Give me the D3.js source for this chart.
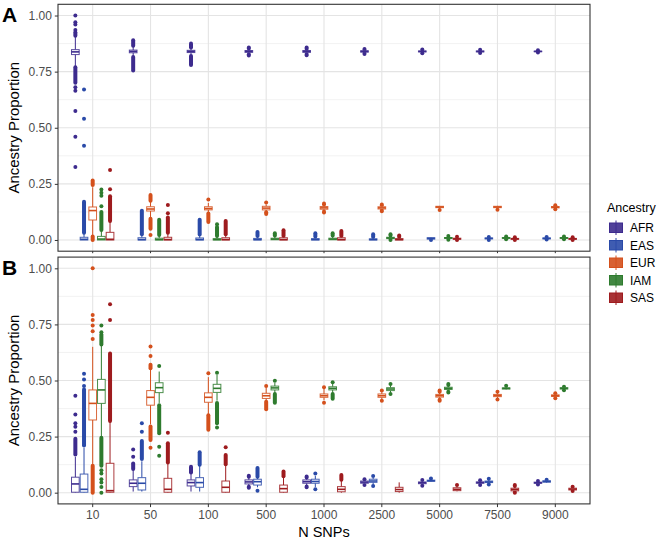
<!DOCTYPE html>
<html><head><meta charset="utf-8">
<script src="https://cdn.jsdelivr.net/npm/d3@7"></script>
<style>body{margin:0;background:#fff} svg{display:block} text{font-family:"Liberation Sans",Arial,Helvetica,sans-serif}</style>
</head><body><svg id="c" width="660" height="540"></svg>
<script>
const categories = ["10","50","100","500","1000","2500","5000","7500","9000"];
const ancestries = ["AFR","EAS","EUR","IAM","SAS"];
const colors = ["#3d2b8e","#2a4aa8","#d4501c","#2e7b2e","#9e1b1e"];
const yTicks = [0, 0.25, 0.5, 0.75, 1];
const yMinor = [0.125, 0.375, 0.625, 0.875];

// b = [lower whisker, q1, median, q3, upper whisker]; r = dense outlier runs [from,to]; p = single outliers
const A_AFR = [
  {b:[0.775,0.826,0.838,0.848,0.905], r:[[0.70,0.77],[0.91,0.925]], p:[0.325,0.46,0.575,0.665,0.68,0.935,0.96,0.97,1.0]},
  {b:[0.82,0.834,0.84,0.846,0.86], r:[[0.755,0.815],[0.865,0.89]], p:[]},
  {b:[0.825,0.835,0.84,0.845,0.852], r:[[0.78,0.82],[0.857,0.875]], p:[]},
  {b:[0.83,0.836,0.84,0.844,0.85], r:[[0.822,0.827],[0.853,0.858]], p:[]},
  {b:[0.832,0.836,0.84,0.844,0.848], r:[[0.823,0.829],[0.851,0.857]], p:[]},
  {b:[0.834,0.837,0.84,0.843,0.846], r:[[0.829,0.831],[0.849,0.851]], p:[]},
  {b:[0.835,0.838,0.84,0.842,0.845], r:[], p:[0.832,0.849]},
  {b:[0.836,0.838,0.84,0.842,0.844], r:[], p:[0.833,0.847]},
  {b:[0.837,0.839,0.84,0.841,0.843], r:[], p:[0.835,0.845]}
];
const A_EAS = [
  {b:[0,0,0.003,0.012,0.028], r:[[0.032,0.17]], p:[0.42,0.54,0.67]},
  {b:[0,0,0.002,0.01,0.022], r:[[0.026,0.13]], p:[]},
  {b:[0,0,0.002,0.009,0.02], r:[[0.024,0.09]], p:[]},
  {b:[0,0,0.002,0.007,0.015], r:[[0.018,0.035]], p:[]},
  {b:[0,0,0.002,0.006,0.013], r:[[0.016,0.03]], p:[]},
  {b:[0,0,0.002,0.005,0.01], r:[[0.013,0.025]], p:[]},
  {b:[0.001,0.004,0.007,0.01,0.012], r:[], p:[0.0]},
  {b:[0.002,0.005,0.007,0.009,0.011], r:[], p:[0.0,0.013]},
  {b:[0.003,0.005,0.007,0.009,0.011], r:[], p:[0.002,0.013]}
];
const A_EUR = [
  {b:[0.02,0.089,0.131,0.147,0.235], r:[[0.0,0.015],[0.245,0.265]], p:[]},
  {b:[0.1,0.129,0.138,0.148,0.17], r:[[0.05,0.095],[0.175,0.2]], p:[0.022]},
  {b:[0.122,0.134,0.14,0.148,0.165], r:[[0.08,0.118]], p:[0.18]},
  {b:[0.128,0.134,0.142,0.15,0.158], r:[[0.116,0.124]], p:[0.167]},
  {b:[0.13,0.137,0.143,0.149,0.155], r:[[0.122,0.127],[0.158,0.163]], p:[]},
  {b:[0.134,0.138,0.143,0.148,0.152], r:[[0.128,0.131],[0.155,0.158]], p:[]},
  {b:[0.138,0.144,0.147,0.15,0.152], r:[], p:[0.134]},
  {b:[0.138,0.144,0.147,0.15,0.152], r:[], p:[0.135]},
  {b:[0.14,0.143,0.146,0.149,0.152], r:[], p:[0.137,0.155]}
];
const A_IAM = [
  {b:[0,0,0.004,0.016,0.04], r:[[0.045,0.125]], p:[0.15,0.197,0.21,0.225]},
  {b:[0,0,0.002,0.008,0.018], r:[[0.022,0.09]], p:[]},
  {b:[0,0,0.002,0.006,0.013], r:[[0.018,0.058]], p:[0.07]},
  {b:[0,0.001,0.004,0.008,0.015], r:[[0.02,0.03]], p:[]},
  {b:[0,0.001,0.004,0.008,0.015], r:[[0.02,0.03]], p:[]},
  {b:[0.003,0.006,0.009,0.012,0.015], r:[[0.0,0.001],[0.02,0.025]], p:[]},
  {b:[0.004,0.007,0.009,0.011,0.014], r:[], p:[0.001,0.018]},
  {b:[0.005,0.007,0.009,0.011,0.013], r:[], p:[0.003,0.016]},
  {b:[0.005,0.007,0.009,0.011,0.013], r:[], p:[0.003,0.016]}
];
const A_SAS = [
  {b:[0,0,0.003,0.034,0.08], r:[[0.085,0.195]], p:[0.226,0.312]},
  {b:[0,0,0.002,0.012,0.028], r:[[0.032,0.1]], p:[0.119,0.156]},
  {b:[0,0,0.002,0.01,0.022], r:[[0.026,0.085]], p:[]},
  {b:[0,0,0.002,0.01,0.015], r:[[0.018,0.043]], p:[]},
  {b:[0,0,0.002,0.01,0.015], r:[[0.018,0.04]], p:[]},
  {b:[0,0,0.002,0.006,0.01], r:[[0.013,0.02]], p:[]},
  {b:[0.001,0.003,0.005,0.008,0.01], r:[], p:[0.0,0.014]},
  {b:[0.001,0.003,0.005,0.007,0.009], r:[], p:[0.0,0.012]},
  {b:[0.001,0.003,0.005,0.007,0.009], r:[], p:[0.0,0.012]}
];

const B_AFR = [
  {b:[0,0.002,0.039,0.069,0.16], r:[[0.17,0.24]], p:[0.272,0.294,0.309,0.348,0.432]},
  {b:[0.005,0.027,0.042,0.057,0.10], r:[[0.105,0.13]], p:[0.16,0.193]},
  {b:[0.005,0.03,0.045,0.057,0.086], r:[[0.09,0.116]], p:[]},
  {b:[0.03,0.039,0.048,0.057,0.068], r:[[0.022,0.026],[0.071,0.076]], p:[]},
  {b:[0.032,0.042,0.049,0.057,0.066], r:[[0.024,0.028],[0.068,0.072]], p:[]},
  {b:[0.038,0.042,0.047,0.052,0.056], r:[], p:[0.034,0.06]},
  {b:[0.036,0.04,0.044,0.048,0.052], r:[], p:[0.031,0.056]},
  {b:[0.038,0.042,0.045,0.048,0.051], r:[], p:[0.034,0.055]},
  {b:[0.039,0.042,0.044,0.047,0.05], r:[], p:[0.036,0.052]}
];
const B_EAS = [
  {b:[0,0.002,0.015,0.083,0.2], r:[[0.21,0.46]], p:[0.475,0.505,0.53]},
  {b:[0.005,0.012,0.042,0.067,0.14], r:[[0.15,0.23]], p:[0.272,0.309]},
  {b:[0.005,0.024,0.045,0.067,0.12], r:[[0.125,0.18]], p:[]},
  {b:[0.024,0.034,0.049,0.06,0.068], r:[[0.071,0.11]], p:[0.009]},
  {b:[0.025,0.042,0.05,0.06,0.075], r:[], p:[0.015,0.086]},
  {b:[0.036,0.046,0.052,0.06,0.066], r:[], p:[0.03,0.074]},
  {b:[0.049,0.051,0.053,0.056,0.058], r:[], p:[0.063]},
  {b:[0.04,0.045,0.048,0.052,0.056], r:[], p:[0.036,0.062]},
  {b:[0.044,0.047,0.05,0.053,0.055], r:[], p:[0.058]}
];
const B_EUR = [
  {b:[0.128,0.324,0.398,0.458,0.65], r:[[0.0,0.12]], p:[0.685,0.72,0.745,0.77,0.792,1.0]},
  {b:[0.305,0.39,0.425,0.455,0.55], r:[[0.235,0.295],[0.555,0.57]], p:[0.2,0.609,0.651]},
  {b:[0.35,0.403,0.425,0.445,0.515], r:[[0.28,0.345]], p:[0.532]},
  {b:[0.41,0.42,0.432,0.443,0.468], r:[[0.372,0.405]], p:[0.475]},
  {b:[0.412,0.425,0.432,0.44,0.462], r:[], p:[0.401,0.47]},
  {b:[0.415,0.425,0.432,0.44,0.448], r:[], p:[0.41,0.455]},
  {b:[0.418,0.426,0.432,0.438,0.446], r:[[0.41,0.414],[0.45,0.455]], p:[]},
  {b:[0.42,0.428,0.433,0.438,0.445], r:[], p:[0.415,0.45]},
  {b:[0.425,0.429,0.432,0.436,0.44], r:[], p:[0.421,0.443]}
];
const B_IAM = [
  {b:[0.25,0.398,0.458,0.505,0.655], r:[[0.12,0.245],[0.66,0.705]], p:[0.0,0.025,0.045,0.06,0.085,0.1,0.715,0.745]},
  {b:[0.40,0.446,0.468,0.49,0.54], r:[[0.265,0.39]], p:[0.165,0.205,0.565]},
  {b:[0.41,0.447,0.465,0.483,0.525], r:[[0.31,0.40]], p:[0.29,0.535]},
  {b:[0.445,0.458,0.467,0.475,0.49], r:[[0.401,0.44]], p:[0.499]},
  {b:[0.445,0.458,0.465,0.472,0.485], r:[[0.419,0.44]], p:[0.492]},
  {b:[0.446,0.455,0.462,0.468,0.478], r:[], p:[0.44,0.484]},
  {b:[0.452,0.46,0.465,0.47,0.476], r:[[0.446,0.45],[0.48,0.484]], p:[]},
  {b:[0.46,0.462,0.465,0.467,0.47], r:[], p:[0.477]},
  {b:[0.459,0.462,0.465,0.468,0.471], r:[], p:[0.456,0.472]}
];
const B_SAS = [
  {b:[0,0.002,0.009,0.131,0.315], r:[[0.32,0.62]], p:[0.77,0.84]},
  {b:[0,0.002,0.015,0.064,0.13], r:[[0.135,0.22]], p:[0.267]},
  {b:[0,0.002,0.024,0.052,0.124], r:[[0.127,0.168]], p:[0.202]},
  {b:[0,0.002,0.018,0.034,0.07], r:[[0.073,0.094]], p:[]},
  {b:[0,0.004,0.015,0.027,0.055], r:[[0.058,0.079]], p:[]},
  {b:[0,0.005,0.014,0.024,0.046], r:[], p:[]},
  {b:[0.006,0.009,0.015,0.022,0.028], r:[], p:[0.034]},
  {b:[0.002,0.008,0.014,0.02,0.028], r:[[0.0,0.002],[0.03,0.034]], p:[]},
  {b:[0.009,0.012,0.016,0.02,0.024], r:[], p:[0.008,0.026]}
];

const panels = [
  {label:"A", top:4.3, bottom:251.2, series:[A_AFR,A_EAS,A_EUR,A_IAM,A_SAS], xLabels:false},
  {label:"B", top:257.1, bottom:503.9, series:[B_AFR,B_EAS,B_EUR,B_IAM,B_SAS], xLabels:true}
];

const svg = d3.select("#c");
const left = 58, right = 590;
const x = d3.scaleBand().domain(categories).range([left, right]).paddingInner(0).paddingOuter(0.1);
const step = x.step();
const dodge = d3.scaleBand().domain(ancestries).range([-0.375*step, 0.375*step]).padding(0);
const bw = dodge.bandwidth();
const color = d3.scaleOrdinal().domain(ancestries).range(colors);
const gridMajor = "#e4e4e4", gridMinor = "#efefef", ink = "#333333";

panels.forEach(pn => {
  const y = d3.scaleLinear().domain([-0.05, 1.05]).range([pn.bottom, pn.top]);
  const g = svg.append("g");
  // grid
  g.selectAll(".ymin").data(yMinor).join("line")
    .attr("x1", left).attr("x2", right).attr("y1", d=>y(d)).attr("y2", d=>y(d))
    .attr("stroke", gridMinor).attr("stroke-width", 0.8);
  g.selectAll(".ymaj").data(yTicks).join("line")
    .attr("x1", left).attr("x2", right).attr("y1", d=>y(d)).attr("y2", d=>y(d))
    .attr("stroke", gridMajor).attr("stroke-width", 1.1);
  g.selectAll(".xmaj").data(categories).join("line")
    .attr("x1", d=>x(d)+x.bandwidth()/2).attr("x2", d=>x(d)+x.bandwidth()/2)
    .attr("y1", pn.top).attr("y2", pn.bottom)
    .attr("stroke", gridMajor).attr("stroke-width", 1.1);

  // boxplots
  pn.series.forEach((ser, si) => {
    const anc = ancestries[si];
    const col = color(anc);
    ser.forEach((d, ci) => {
      const cx = x(categories[ci]) + x.bandwidth()/2 + dodge(anc) + bw/2;
      const bg = g.append("g");
      d.r.forEach(rr => {
        bg.append("line").attr("x1", cx).attr("x2", cx)
          .attr("y1", y(rr[0])).attr("y2", y(rr[1]))
          .attr("stroke", col).attr("stroke-width", 4).attr("stroke-linecap", "round");
      });
      d.p.forEach(pv => {
        bg.append("circle").attr("cx", cx).attr("cy", y(pv)).attr("r", 2).attr("fill", col);
      });
      const [lo, q1, md, q3, hi] = d.b;
      bg.append("line").attr("x1", cx).attr("x2", cx).attr("y1", y(q3)).attr("y2", y(hi))
        .attr("stroke", col).attr("stroke-width", 1);
      bg.append("line").attr("x1", cx).attr("x2", cx).attr("y1", y(q1)).attr("y2", y(lo))
        .attr("stroke", col).attr("stroke-width", 1);
      bg.append("rect").attr("x", cx - bw/2 + 0.5).attr("width", bw - 1)
        .attr("y", y(q3)).attr("height", Math.max(0.01, y(q1) - y(q3)))
        .attr("fill", "#ffffff").attr("stroke", col).attr("stroke-width", 1).attr("stroke-opacity", 0.85);
      bg.append("line").attr("x1", cx - bw/2 + 0.5).attr("x2", cx + bw/2 - 0.5)
        .attr("y1", y(md)).attr("y2", y(md))
        .attr("stroke", col).attr("stroke-width", 1.6);
    });
  });

  // border
  g.append("rect").attr("x", left).attr("y", pn.top).attr("width", right-left).attr("height", pn.bottom-pn.top)
    .attr("fill", "none").attr("stroke", ink).attr("stroke-width", 1.1);

  // y axis
  const yAxis = d3.axisLeft(y).tickValues(yTicks).tickFormat(d3.format(".2f")).tickSize(3.2).tickPadding(3);
  const ya = svg.append("g").attr("transform", `translate(${left},0)`).call(yAxis);
  ya.select(".domain").remove();
  ya.selectAll(".tick line").attr("stroke", ink);
  ya.selectAll(".tick text").attr("fill", "#4d4d4d").style("font-size", "12px")
    .style("font-family", '"Liberation Sans",Arial,sans-serif');

  // x axis
  const xAxis = d3.axisBottom(x).tickSize(3.2).tickPadding(3);
  const xa = svg.append("g").attr("transform", `translate(0,${pn.bottom})`).call(xAxis);
  xa.select(".domain").remove();
  xa.selectAll(".tick line").attr("stroke", ink);
  if (pn.xLabels) {
    xa.selectAll(".tick text").attr("fill", "#4d4d4d").style("font-size", "12px")
      .style("font-family", '"Liberation Sans",Arial,sans-serif');
  } else {
    xa.selectAll(".tick text").remove();
    xa.selectAll(".tick line").attr("y2", 2);
  }

  // y title
  const mid = (pn.top + pn.bottom)/2;
  svg.append("text").attr("transform", `translate(19,${mid}) rotate(-90)`)
    .attr("text-anchor", "middle").style("font-size", "15px").attr("fill", "#000")
    .text("Ancestry Proportion");

  // panel label
  svg.append("text").attr("x", 2).attr("y", pn.top + 18).style("font-size", "21px")
    .style("font-weight", "bold").attr("fill", "#000").text(pn.label);
});

// x title
svg.append("text").attr("x", (left+right)/2).attr("y", 537).attr("text-anchor", "middle")
  .style("font-size", "14.5px").attr("fill", "#000").text("N SNPs");

// legend
const lg = svg.append("g");
lg.append("text").attr("x", 607).attr("y", 212).style("font-size", "12.5px").attr("fill", "#000").text("Ancestry");
const keyTop = 219, keyH = 17.5;
ancestries.forEach((a, i) => {
  const ky = keyTop + i*keyH;
  const col = color(a);
  const kx = 616;
  lg.append("line").attr("x1", kx).attr("x2", kx).attr("y1", ky + 1.5).attr("y2", ky + keyH - 1.5)
    .attr("stroke", col).attr("stroke-width", 1);
  lg.append("rect").attr("x", 609.5).attr("y", ky + 4).attr("width", 13).attr("height", keyH - 8)
    .attr("fill", col).attr("fill-opacity", 0.9).attr("stroke", col).attr("stroke-width", 1);
  lg.append("text").attr("x", 630).attr("y", ky + keyH/2 + 4.3).style("font-size", "12px")
    .attr("fill", "#000").text(a);
});
</script></body></html>
